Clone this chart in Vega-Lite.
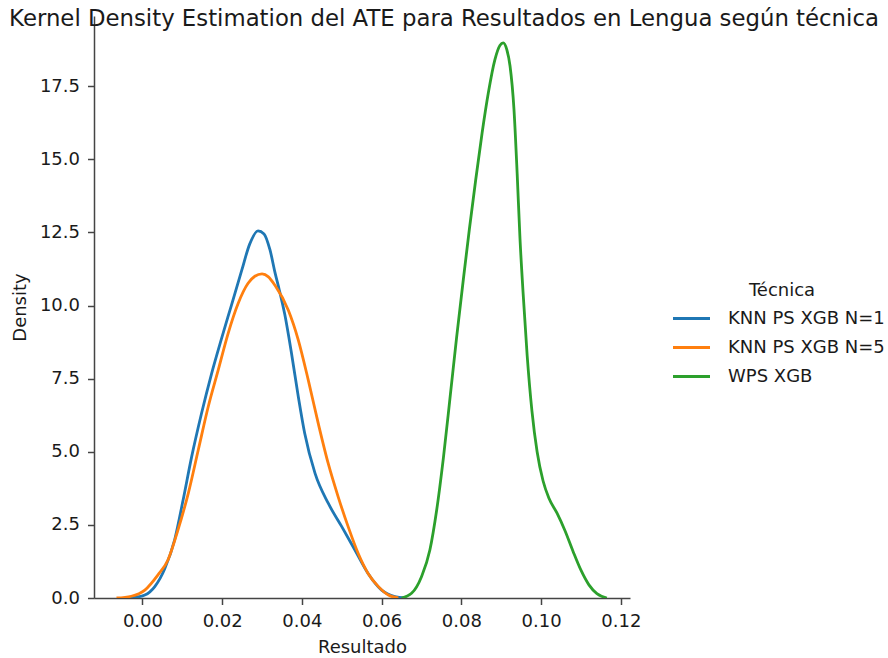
{
  "$schema": "https://vega.github.io/schema/vega-lite/v6.json",
  "width": 536,
  "height": 582,
  "autosize": {"type": "none"},
  "padding": {"left": 94, "top": 16, "right": 258, "bottom": 60},
  "background": "white",
  "title": {
    "text": "Kernel Density Estimation del ATE para Resultados en Lengua según técnica",
    "anchor": "middle",
    "frame": "group",
    "dx": 82,
    "baseline": "alphabetic",
    "offset": 0,
    "dy": 33,
    "font": "DejaVu Sans",
    "fontSize": 22.8,
    "fontWeight": "normal",
    "color": "#1a1a1a"
  },
  "config": {
    "view": {"stroke": null},
    "font": "DejaVu Sans",
    "axis": {
      "grid": false,
      "domainColor": "#444444",
      "domainWidth": 1.5,
      "tickColor": "#444444",
      "tickWidth": 1.5,
      "tickSize": 6.5,
      "labelFont": "DejaVu Sans",
      "labelFontSize": 18,
      "labelColor": "#1a1a1a",
      "labelPadding": 5,
      "titleFont": "DejaVu Sans",
      "titleFontSize": 18,
      "titleFontWeight": "normal",
      "titleColor": "#1a1a1a"
    },
    "legend": {
      "padding": 0
    }
  },
  "data": {
    "values": [
      {"t": "KNN PS XGB N=1", "x": -0.0040, "y": 0.0},
      {"t": "KNN PS XGB N=1", "x": -0.0020, "y": 0.02},
      {"t": "KNN PS XGB N=1", "x": 0.0006, "y": 0.1},
      {"t": "KNN PS XGB N=1", "x": 0.0031, "y": 0.39},
      {"t": "KNN PS XGB N=1", "x": 0.0056, "y": 1.0},
      {"t": "KNN PS XGB N=1", "x": 0.0081, "y": 2.0},
      {"t": "KNN PS XGB N=1", "x": 0.0102, "y": 3.35},
      {"t": "KNN PS XGB N=1", "x": 0.0123, "y": 4.8},
      {"t": "KNN PS XGB N=1", "x": 0.0148, "y": 6.3},
      {"t": "KNN PS XGB N=1", "x": 0.0173, "y": 7.65},
      {"t": "KNN PS XGB N=1", "x": 0.0198, "y": 8.85},
      {"t": "KNN PS XGB N=1", "x": 0.0223, "y": 10.0},
      {"t": "KNN PS XGB N=1", "x": 0.0249, "y": 11.2},
      {"t": "KNN PS XGB N=1", "x": 0.0269, "y": 12.1},
      {"t": "KNN PS XGB N=1", "x": 0.0290, "y": 12.55},
      {"t": "KNN PS XGB N=1", "x": 0.0305, "y": 12.45},
      {"t": "KNN PS XGB N=1", "x": 0.0320, "y": 11.9},
      {"t": "KNN PS XGB N=1", "x": 0.0333, "y": 11.1},
      {"t": "KNN PS XGB N=1", "x": 0.0343, "y": 10.55},
      {"t": "KNN PS XGB N=1", "x": 0.0357, "y": 9.7},
      {"t": "KNN PS XGB N=1", "x": 0.0374, "y": 8.36},
      {"t": "KNN PS XGB N=1", "x": 0.0391, "y": 6.88},
      {"t": "KNN PS XGB N=1", "x": 0.0407, "y": 5.63},
      {"t": "KNN PS XGB N=1", "x": 0.0433, "y": 4.26},
      {"t": "KNN PS XGB N=1", "x": 0.0466, "y": 3.24},
      {"t": "KNN PS XGB N=1", "x": 0.0500, "y": 2.44},
      {"t": "KNN PS XGB N=1", "x": 0.0533, "y": 1.64},
      {"t": "KNN PS XGB N=1", "x": 0.0566, "y": 0.84},
      {"t": "KNN PS XGB N=1", "x": 0.0600, "y": 0.27},
      {"t": "KNN PS XGB N=1", "x": 0.0633, "y": 0.05},
      {"t": "KNN PS XGB N=1", "x": 0.0659, "y": 0.0},
      {"t": "KNN PS XGB N=5", "x": -0.0065, "y": 0.0},
      {"t": "KNN PS XGB N=5", "x": -0.0028, "y": 0.06},
      {"t": "KNN PS XGB N=5", "x": 0.0006, "y": 0.27},
      {"t": "KNN PS XGB N=5", "x": 0.0039, "y": 0.79},
      {"t": "KNN PS XGB N=5", "x": 0.0064, "y": 1.3},
      {"t": "KNN PS XGB N=5", "x": 0.0089, "y": 2.32},
      {"t": "KNN PS XGB N=5", "x": 0.0115, "y": 3.58},
      {"t": "KNN PS XGB N=5", "x": 0.0140, "y": 5.06},
      {"t": "KNN PS XGB N=5", "x": 0.0165, "y": 6.54},
      {"t": "KNN PS XGB N=5", "x": 0.0190, "y": 7.79},
      {"t": "KNN PS XGB N=5", "x": 0.0215, "y": 9.05},
      {"t": "KNN PS XGB N=5", "x": 0.0240, "y": 10.07},
      {"t": "KNN PS XGB N=5", "x": 0.0265, "y": 10.76},
      {"t": "KNN PS XGB N=5", "x": 0.0282, "y": 11.0},
      {"t": "KNN PS XGB N=5", "x": 0.0300, "y": 11.08},
      {"t": "KNN PS XGB N=5", "x": 0.0316, "y": 10.98},
      {"t": "KNN PS XGB N=5", "x": 0.0332, "y": 10.7},
      {"t": "KNN PS XGB N=5", "x": 0.0366, "y": 9.84},
      {"t": "KNN PS XGB N=5", "x": 0.0391, "y": 8.82},
      {"t": "KNN PS XGB N=5", "x": 0.0416, "y": 7.45},
      {"t": "KNN PS XGB N=5", "x": 0.0441, "y": 5.97},
      {"t": "KNN PS XGB N=5", "x": 0.0466, "y": 4.6},
      {"t": "KNN PS XGB N=5", "x": 0.0491, "y": 3.46},
      {"t": "KNN PS XGB N=5", "x": 0.0516, "y": 2.44},
      {"t": "KNN PS XGB N=5", "x": 0.0541, "y": 1.53},
      {"t": "KNN PS XGB N=5", "x": 0.0566, "y": 0.84},
      {"t": "KNN PS XGB N=5", "x": 0.0592, "y": 0.39},
      {"t": "KNN PS XGB N=5", "x": 0.0617, "y": 0.1},
      {"t": "KNN PS XGB N=5", "x": 0.0642, "y": 0.0},
      {"t": "WPS XGB", "x": 0.0650, "y": 0.0},
      {"t": "WPS XGB", "x": 0.0675, "y": 0.16},
      {"t": "WPS XGB", "x": 0.0700, "y": 0.73},
      {"t": "WPS XGB", "x": 0.0721, "y": 1.64},
      {"t": "WPS XGB", "x": 0.0738, "y": 3.0},
      {"t": "WPS XGB", "x": 0.0755, "y": 4.8},
      {"t": "WPS XGB", "x": 0.0772, "y": 6.9},
      {"t": "WPS XGB", "x": 0.0788, "y": 8.9},
      {"t": "WPS XGB", "x": 0.0805, "y": 10.9},
      {"t": "WPS XGB", "x": 0.0820, "y": 12.6},
      {"t": "WPS XGB", "x": 0.0836, "y": 14.3},
      {"t": "WPS XGB", "x": 0.0852, "y": 15.9},
      {"t": "WPS XGB", "x": 0.0868, "y": 17.3},
      {"t": "WPS XGB", "x": 0.0884, "y": 18.4},
      {"t": "WPS XGB", "x": 0.0897, "y": 18.9},
      {"t": "WPS XGB", "x": 0.0905, "y": 18.98},
      {"t": "WPS XGB", "x": 0.0914, "y": 18.75},
      {"t": "WPS XGB", "x": 0.0922, "y": 18.2},
      {"t": "WPS XGB", "x": 0.0932, "y": 16.7},
      {"t": "WPS XGB", "x": 0.0940, "y": 14.5},
      {"t": "WPS XGB", "x": 0.0947, "y": 12.3},
      {"t": "WPS XGB", "x": 0.0955, "y": 10.4},
      {"t": "WPS XGB", "x": 0.0965, "y": 8.3},
      {"t": "WPS XGB", "x": 0.0977, "y": 6.4},
      {"t": "WPS XGB", "x": 0.0990, "y": 5.0},
      {"t": "WPS XGB", "x": 0.1005, "y": 4.0},
      {"t": "WPS XGB", "x": 0.1020, "y": 3.4},
      {"t": "WPS XGB", "x": 0.1040, "y": 2.9},
      {"t": "WPS XGB", "x": 0.1060, "y": 2.3},
      {"t": "WPS XGB", "x": 0.1080, "y": 1.6},
      {"t": "WPS XGB", "x": 0.1100, "y": 0.95},
      {"t": "WPS XGB", "x": 0.1120, "y": 0.45},
      {"t": "WPS XGB", "x": 0.1140, "y": 0.15},
      {"t": "WPS XGB", "x": 0.1165, "y": 0.0}
    ]
  },
  "mark": {"type": "line", "interpolate": "monotone", "strokeWidth": 2.8, "clip": true},
  "encoding": {
    "x": {
      "field": "x",
      "type": "quantitative",
      "scale": {"domain": [-0.01215, 0.1223], "nice": false, "zero": false},
      "axis": {
        "title": "Resultado",
        "values": [0, 0.02, 0.04, 0.06, 0.08, 0.1, 0.12],
        "format": ".2f",
        "labelFlush": false,
        "labelPadding": 8,
        "titlePadding": 8
      }
    },
    "y": {
      "field": "y",
      "type": "quantitative",
      "scale": {"domain": [0, 19.9], "nice": false},
      "axis": {
        "title": "Density",
        "values": [0, 2.5, 5, 7.5, 10, 12.5, 15, 17.5],
        "format": ".1f",
        "labelPadding": 8,
        "titlePadding": 10
      }
    },
    "color": {
      "field": "t",
      "type": "nominal",
      "scale": {
        "domain": ["KNN PS XGB N=1", "KNN PS XGB N=5", "WPS XGB"],
        "range": ["#1f77b4", "#ff7f0e", "#2ca02c"]
      },
      "legend": {
        "title": "Técnica",
        "orient": "none",
        "legendX": 586,
        "legendY": 266,
        "titleAnchor": "middle",
        "titleFont": "DejaVu Sans",
        "titleFontSize": 18,
        "titleFontWeight": "normal",
        "titleColor": "#1a1a1a",
        "titlePadding": 7,
        "labelFont": "DejaVu Sans",
        "labelFontSize": 18,
        "labelColor": "#1a1a1a",
        "labelLimit": 300,
        "labelOffset": 25,
        "symbolType": "M-1.85,0H1.85",
        "symbolSize": 400,
        "symbolStrokeWidth": 2.8,
        "rowPadding": 8
      }
    }
  }
}
